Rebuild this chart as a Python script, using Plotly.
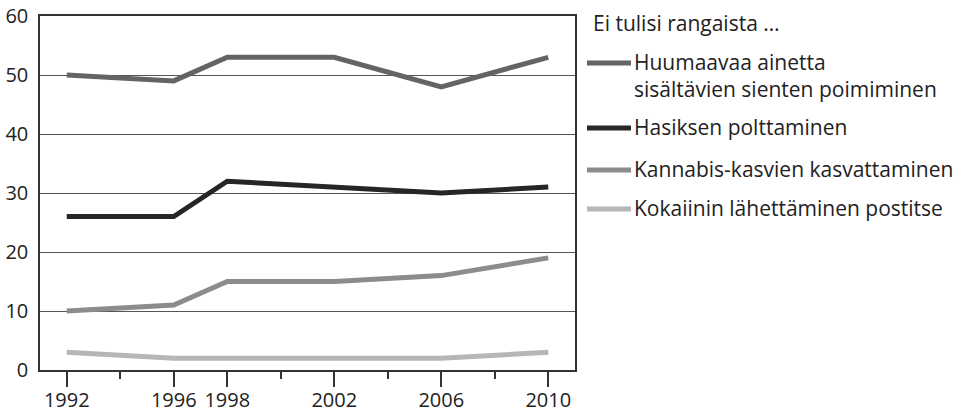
import plotly.graph_objects as go

years = [1992, 1996, 1998, 2002, 2006, 2010]
series_names = [
    "Huumaavaa ainetta<br>sisältävien sienten poimiminen",
    "Hasiksen polttaminen",
    "Kannabis-kasvien kasvattaminen",
    "Kokaiinin lähettäminen postitse",
]
huumaavaa = [50, 49, 53, 53, 48, 53]
hasis = [26, 26, 32, 31, 30, 31]
kannabis = [10, 11, 15, 15, 16, 19]
kokaiini = [3, 2, 2, 2, 2, 3]
series_values = [huumaavaa, hasis, kannabis, kokaiini]
colors = ["#646464", "#262626", "#8c8c8c", "#b6b6b6"]
legend_title = "Ei tulisi rangaista …"
x_tick_labels = [1992, 1996, 1998, 2002, 2006, 2010]
x_minor_ticks = [1994, 2000, 2004, 2008]
y_ticks = [0, 10, 20, 30, 40, 50, 60]

W, H = 958, 413
L, R, T, B = 40, 575, 16, 370
FONT = "Open Sans"

def px(x):
    return (x - L) / (R - L)

def py(y):
    return (B - y) / (B - T)

fig = go.Figure()
for name, vals, c in zip(series_names, series_values, colors):
    fig.add_trace(go.Scatter(x=years, y=vals, mode="lines", name=name,
                             line=dict(color=c, width=5), showlegend=False))

# manual legend
fig.add_annotation(x=px(591), y=py(23), xref="paper", yref="paper", text=legend_title,
                   showarrow=False, xanchor="left", yanchor="middle",
                   font=dict(family=FONT, size=21, color="#222"))
leg_y = [63, 128, 170, 209]
for name, c, ly in zip(series_names, colors, leg_y):
    fig.add_shape(type="line", xref="paper", yref="paper", x0=px(587), x1=px(631),
                  y0=py(ly), y1=py(ly), line=dict(color=c, width=5))
    fig.add_annotation(x=px(632), y=py(ly - 17), xref="paper", yref="paper", text=name,
                       showarrow=False, xanchor="left", yanchor="top", align="left",
                       font=dict(family=FONT, size=21, color="#222"))

fig.update_layout(
    width=W, height=H,
    margin=dict(l=L, r=W - R, t=T, b=H - B, autoexpand=False),
    paper_bgcolor="white", plot_bgcolor="white",
    font=dict(family=FONT, size=20, color="#222"),
    xaxis=dict(range=[1991, 2011], tickvals=x_tick_labels, ticktext=[str(v) for v in x_tick_labels],
               ticks="outside", ticklen=15, tickwidth=1.5, tickcolor="#333", automargin=False,
               ticklabelstandoff=-4,
               minor=dict(tickvals=x_minor_ticks, ticks="outside", ticklen=7, tickwidth=1.5, tickcolor="#333",
                          showgrid=False),
               showgrid=False, zeroline=False, showline=True, linecolor="#333", linewidth=1.5,
               mirror=True, tickfont=dict(family=FONT, size=20, color="#222")),
    yaxis=dict(range=[0, 60], tickvals=y_ticks, ticks="", showgrid=True, gridcolor="#555",
               gridwidth=1, zeroline=False, showline=True, linecolor="#333", linewidth=1.5,
               automargin=False,
               mirror=True, ticklabelstandoff=6, tickfont=dict(family=FONT, size=20, color="#222")),
)
fig.write_html("out.html", config={"displayModeBar": False},
               post_script="document.body.style.margin='0';document.body.style.overflow='hidden';")
